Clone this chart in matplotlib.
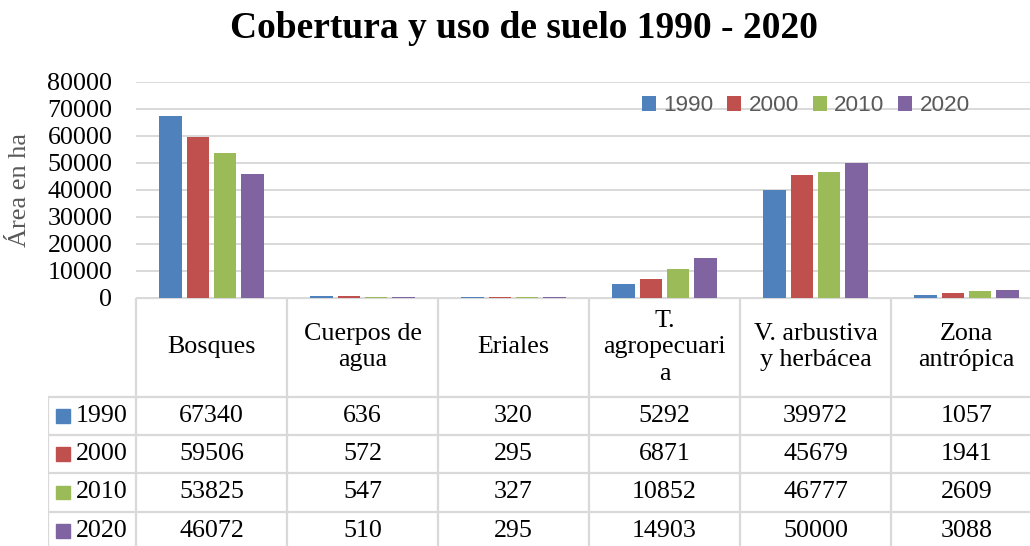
import matplotlib.pyplot as plt
from matplotlib.patches import Rectangle
import numpy as np

# datos
categorias = ["Bosques", "Cuerpos de\nagua", "Eriales", "T.\nagropecuari\na",
              "V. arbustiva\ny herbácea", "Zona\nantrópica"]
anios = ["1990", "2000", "2010", "2020"]
v1990 = [67340, 636, 320, 5292, 39972, 1057]
v2000 = [59506, 572, 295, 6871, 45679, 1941]
v2010 = [53825, 547, 327, 10852, 46777, 2609]
v2020 = [46072, 510, 295, 14903, 50000, 3088]
colores = ["#4F81BD", "#C0504D", "#9BBB59", "#8064A2"]

series = [v1990, v2000, v2010, v2020]
W, H = 1030, 546
serif = "Liberation Serif"
gris = "#d9d9d9"

fig = plt.figure(figsize=(W / 100, H / 100), dpi=100)

# area de barras (px: x 136-1042, y 82-298)
ax = fig.add_axes([136 / W, 1 - 298 / H, 906 / W, 216 / H])
x = np.arange(len(categorias))
ancho = 0.146
paso = 0.181
for i, (vals, c, a) in enumerate(zip(series, colores, anios)):
    ax.bar(x + (i - 1.5) * paso, vals, ancho, color=c, label=a,
           linewidth=0, zorder=3)

ax.set_xlim(-0.5, len(categorias) - 0.5)
ax.set_ylim(0, 80000)
ax.set_yticks(np.arange(0, 80001, 10000))
ax.set_yticklabels([str(v) for v in range(0, 80001, 10000)],
                   fontfamily=serif, fontsize=18.7)
ax.tick_params(axis="y", length=0, pad=17)
ax.set_xticks([])
ax.grid(axis="y", color=gris, linewidth=1.4, zorder=0)
for s in ["top", "right", "left", "bottom"]:
    ax.spines[s].set_visible(False)

fig.text(20 / W, 1 - 190 / H, "Área en ha", rotation=90, ha="center",
         va="center", fontfamily=serif, fontsize=19, color="#595959")

leg = ax.legend(ncol=4, loc="center left", bbox_to_anchor=(506 / 906, 0.89),
                frameon=False, prop={"family": "Liberation Sans", "size": 16.2},
                handlelength=0.62, handleheight=0.62, handletextpad=0.32,
                columnspacing=0.62, borderaxespad=0, borderpad=0)
for t in leg.get_texts():
    t.set_color("#595959")

fig.text(524 / W, 1 - 29 / H, "Cobertura y uso de suelo 1990 - 2020",
         ha="center", va="center", fontfamily=serif, fontsize=27,
         fontweight="bold")

# tabla de datos (px: x 48-1042, y 298-550)
izq = -0.5 - (136 - 48) / 151
cab = 99 / 38.5
n = len(anios)
tb = fig.add_axes([48 / W, 1 - 550 / H, 994 / W, 252 / H])
tb.set_xlim(izq, len(categorias) - 0.5)
tb.set_ylim(cab + n, 0)
tb.axis("off")

lw = 1.6
tb.plot([-0.5, len(categorias) - 0.5], [0, 0], color=gris, lw=lw)
for r in range(n):
    tb.plot([izq, len(categorias) - 0.5], [cab + r, cab + r], color=gris, lw=lw)
for k in range(len(categorias) + 1):
    tb.plot([k - 0.5, k - 0.5], [0, cab + n], color=gris, lw=lw)
tb.plot([izq, izq], [cab, cab + n], color=gris, lw=lw)

for k, nom in enumerate(categorias):
    tb.text(k, cab / 2, nom, ha="center", va="center", fontfamily=serif,
            fontsize=18.7, linespacing=1.25)

for r, (vals, c, a) in enumerate(zip(series, colores, anios)):
    yc = cab + r + 0.5
    tb.add_patch(Rectangle((izq + 8 / 151, yc - 0.18), 14 / 151, 0.36,
                           color=c))
    tb.text(izq + 28 / 151, yc, a, ha="left", va="center", fontfamily=serif,
            fontsize=18.7)
    for k, v in enumerate(vals):
        tb.text(k, yc, str(v), ha="center", va="center", fontfamily=serif,
                fontsize=18.7)

fig.savefig("out.png", dpi=100)
